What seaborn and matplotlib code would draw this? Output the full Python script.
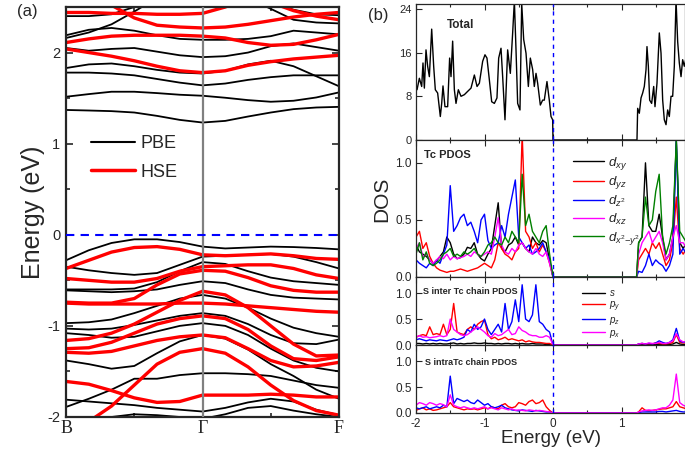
import numpy as np
import pandas as pd
import matplotlib
matplotlib.use("Agg")
import matplotlib.pyplot as plt
from matplotlib.ticker import MultipleLocator, FixedLocator
from matplotlib.lines import Line2D
import seaborn as sns

sns.set_style("ticks")
plt.rcParams['font.family'] = ['Liberation Sans', 'DejaVu Sans']
plt.rcParams['axes.unicode_minus'] = False
plt.rcParams['mathtext.fontset'] = 'custom'
plt.rcParams['mathtext.it'] = 'Liberation Sans:italic'
plt.rcParams['mathtext.rm'] = 'Liberation Sans'
plt.rcParams['xtick.direction'] = 'in'
plt.rcParams['ytick.direction'] = 'in'

# ---------------- band structure data (eV) ----------------
k_path = [0, 1/12, 2/12, 3/12, 4/12, 5/12, 6/12, 7/12, 8/12, 9/12, 10/12, 11/12, 1]
k_labels = ['B', 'Γ', 'F']
k_label_pos = [0, 0.5, 1]

pbe_conduction = [
    [1.37, 1.364, 1.357, 1.342, 1.305, 1.261, 1.232, 1.250, 1.298, 1.342, 1.379, 1.397, 1.404],
    [1.515, 1.544, 1.570, 1.570, 1.555, 1.537, 1.526, 1.504, 1.478, 1.460, 1.471, 1.507, 1.563],
    [1.78, 1.78, 1.77, 1.75, 1.71, 1.67, 1.64, 1.66, 1.70, 1.73, 1.75, 1.75, 1.75],
    [1.83, 1.87, 1.88, 1.85, 1.81, 1.78, 1.77, 1.80, 1.87, 1.91, 1.85, 1.74, 1.63],
    [2.05, 2.02, 2.04, 2.05, 2.01, 1.97, 1.95, 1.96, 2.00, 2.07, 2.10, 2.06, 2.02],
    [2.19, 2.25, 2.27, 2.24, 2.19, 2.15, 2.14, 2.14, 2.15, 2.18, 2.24, 2.22, 2.20],
    [2.16, 2.22, 2.31, 2.45, 2.60, 2.70, 2.70, 2.70, 2.60, 2.48, 2.36, 2.33, 2.32],
    [2.40, 2.40, 2.42, 2.50, 2.60, 2.65, 2.65, 2.65, 2.60, 2.55, 2.47, 2.42, 2.41],
]
pbe_valence = [
    [-0.28, -0.17, -0.09, -0.05, -0.05, -0.08, -0.13, -0.15, -0.14, -0.13, -0.135, -0.145, -0.16],
    [-0.35, -0.39, -0.42, -0.44, -0.42, -0.33, -0.24, -0.23, -0.22, -0.21, -0.24, -0.30, -0.37],
    [-0.60, -0.60, -0.60, -0.59, -0.52, -0.40, -0.30, -0.32, -0.40, -0.47, -0.51, -0.53, -0.55],
    [-0.61, -0.62, -0.63, -0.62, -0.60, -0.55, -0.51, -0.53, -0.60, -0.66, -0.69, -0.70, -0.71],
    [-0.97, -0.96, -0.93, -0.86, -0.78, -0.70, -0.66, -0.70, -0.80, -0.92, -1.02, -1.08, -1.12],
    [-1.03, -1.04, -1.03, -0.99, -0.94, -0.89, -0.86, -0.89, -0.98, -1.10, -1.19, -1.20, -1.15],
    [-1.08, -1.10, -1.13, -1.12, -1.06, -1.00, -0.97, -1.00, -1.10, -1.25, -1.38, -1.46, -1.50],
    [-1.38, -1.42, -1.47, -1.44, -1.30, -1.17, -1.10, -1.14, -1.26, -1.42, -1.55, -1.70, -1.80],
    [-1.89, -1.80, -1.70, -1.58, -1.58, -1.54, -1.52, -1.52, -1.53, -1.55, -1.60, -1.65, -1.68],
    [-1.81, -1.83, -1.85, -1.87, -1.90, -1.92, -1.94, -1.90, -1.84, -1.80, -1.83, -1.92, -1.98],
    [-2.05, -2.02, -2.00, -1.97, -1.98, -2.00, -2.02, -1.97, -1.90, -1.88, -1.93, -1.97, -2.00],
]
hse_conduction = [
    [2.04, 2.00, 1.96, 1.91, 1.85, 1.80, 1.78, 1.80, 1.86, 1.90, 1.93, 1.95, 1.97],
    [2.11, 2.15, 2.18, 2.19, 2.19, 2.19, 2.18, 2.16, 2.11, 2.08, 2.09, 2.14, 2.20],
    [2.44, 2.44, 2.43, 2.43, 2.42, 2.42, 2.43, 2.50, 2.60, 2.70, 2.70, 2.70, 2.70],
    [2.70, 2.60, 2.52, 2.38, 2.30, 2.28, 2.27, 2.28, 2.31, 2.35, 2.39, 2.42, 2.44],
    [2.80, 2.80, 2.80, 2.80, 2.80, 2.80, 2.80, 2.75, 2.65, 2.55, 2.46, 2.40, 2.36],
]
hse_valence = [
    [-0.37, -0.28, -0.19, -0.14, -0.13, -0.16, -0.22, -0.23, -0.22, -0.21, -0.23, -0.26, -0.27],
    [-0.48, -0.50, -0.52, -0.52, -0.48, -0.40, -0.35, -0.34, -0.33, -0.33, -0.37, -0.44, -0.48],
    [-0.74, -0.75, -0.75, -0.70, -0.55, -0.43, -0.39, -0.40, -0.47, -0.56, -0.61, -0.63, -0.63],
    [-1.16, -1.14, -1.08, -0.98, -0.85, -0.72, -0.62, -0.66, -0.80, -1.00, -1.20, -1.33, -1.32],
    [-0.75, -0.76, -0.76, -0.76, -0.76, -0.75, -0.75, -0.76, -0.78, -0.80, -0.82, -0.84, -0.85],
    [-1.25, -1.24, -1.18, -1.08, -0.98, -0.92, -0.89, -0.92, -1.04, -1.22, -1.36, -1.38, -1.34],
    [-1.29, -1.30, -1.28, -1.22, -1.16, -1.12, -1.10, -1.13, -1.25, -1.38, -1.45, -1.44, -1.40],
    [-2.20, -2.05, -1.88, -1.65, -1.42, -1.29, -1.25, -1.30, -1.45, -1.65, -1.82, -1.93, -1.98],
    [-1.61, -1.64, -1.71, -1.79, -1.84, -1.83, -1.76, -1.76, -1.76, -1.75, -1.76, -1.78, -1.78],
]

# ---------------- DOS data ----------------
E_total = [-1.985, -1.951, -1.917, -1.898, -1.878, -1.854, -1.830, -1.805, -1.771, -1.742,
           -1.718, -1.684, -1.645, -1.625, -1.606, -1.577, -1.538, -1.509, -1.489, -1.465,
           -1.440, -1.416, -1.382, -1.343, -1.294, -1.246, -1.197, -1.148, -1.109, -1.075,
           -1.027, -0.993, -0.964, -0.929, -0.895, -0.856, -0.818, -0.793, -0.759, -0.735,
           -0.701, -0.662, -0.623, -0.589, -0.564, -0.540, -0.516, -0.482, -0.457, -0.428,
           -0.394, -0.360, -0.331, -0.297, -0.273, -0.248, -0.224, -0.185, -0.151, -0.127,
           -0.088, -0.054, -0.029, -0.005, 0.0,
           1.226, 1.236, 1.260, 1.285, 1.309, 1.333, 1.358, 1.372, 1.392, 1.411,
           1.440, 1.470, 1.489, 1.518, 1.552, 1.577, 1.601, 1.625, 1.650, 1.674,
           1.698, 1.723, 1.747, 1.771, 1.796, 1.820, 1.844, 1.869, 1.893, 1.917, 1.942]
dos_total = [9.2, 11.3, 9.8, 14.1, 9.5, 16.5, 13.5, 11.6, 20.3, 13.5,
             9.2, 8.6, 4.3, 6.7, 9.9, 6.1, 6.1, 15.0, 11.6, 18.1,
             9.2, 6.7, 9.2, 8.0, 8.3, 8.9, 9.5, 11.9, 9.8, 10.4,
             14.4, 15.6, 15.0, 11.0, 7.0, 6.7, 7.7, 15.0, 16.8, 11.6,
             3.7, 16.5, 12.2, 19.6, 25.5, 16.5, 6.7, 5.5, 25.0, 18.4,
             15.9, 9.8, 15.0, 12.9, 9.8, 12.2, 10.4, 6.4, 7.3, 7.3,
             10.7, 7.3, 4.3, 3.7, 0.0,
             0.0, 5.8, 4.9, 7.7, 8.6, 9.8, 12.9, 17.1, 13.5, 7.3,
             6.7, 9.8, 6.1, 10.4, 19.6, 15.9, 7.3, 3.7, 2.8, 5.5,
             4.3, 8.0, 8.0, 13.5, 25.7, 18.0, 14.1, 11.6, 14.7, 13.5, 15.0]

E_val = list(np.round(np.arange(-2.0, 0.001, 0.05), 2))
E_cond = [1.22, 1.25, 1.30, 1.35, 1.40, 1.45, 1.50, 1.55, 1.60, 1.65, 1.70, 1.75, 1.80, 1.85, 1.90, 1.95]

tc_dxy = [0.28, 0.22, 0.20, 0.18, 0.15, 0.12, 0.14, 0.18, 0.22, 0.35,
          0.30, 0.20, 0.16, 0.17, 0.20, 0.26, 0.25, 0.30, 0.20, 0.16,
          0.14, 0.20, 0.25, 0.45, 0.65, 0.25, 0.22, 0.28, 0.30, 0.35,
          0.28, 0.30, 0.25, 0.22, 0.35, 0.30, 0.28, 0.32, 0.30, 0.15, 0.0]
tc_dyz = [0.35, 0.40, 0.25, 0.30, 0.18, 0.12, 0.08, 0.06, 0.05, 0.04,
          0.05, 0.05, 0.06, 0.07, 0.06, 0.05, 0.06, 0.07, 0.08, 0.10,
          0.12, 0.10, 0.08, 0.15, 0.30, 0.25, 0.20, 0.18, 0.15, 0.22,
          0.25, 1.25, 0.40, 0.35, 0.25, 0.30, 0.22, 0.28, 0.22, 0.12, 0.0]
tc_dz2 = [0.15, 0.12, 0.10, 0.08, 0.12, 0.10, 0.15, 0.12, 0.20, 0.28,
          0.80, 0.40, 0.45, 0.52, 0.55, 0.45, 0.48, 0.40, 0.30, 0.50,
          0.55, 0.32, 0.25, 0.28, 0.30, 0.45, 0.35, 0.55, 0.70, 0.85,
          0.35, 0.30, 0.25, 0.28, 0.20, 0.22, 0.25, 0.30, 0.22, 0.15, 0.0]
tc_dxz = [0.25, 0.30, 0.18, 0.20, 0.15, 0.12, 0.15, 0.18, 0.16, 0.20,
          0.15, 0.18, 0.16, 0.17, 0.18, 0.20, 0.18, 0.22, 0.20, 0.18,
          0.20, 0.22, 0.20, 0.35, 0.52, 0.28, 0.22, 0.20, 0.25, 0.22,
          0.28, 0.30, 0.25, 0.22, 0.20, 0.25, 0.20, 0.18, 0.22, 0.12, 0.0]
tc_dx2y2 = [0.20, 0.30, 0.15, 0.22, 0.12, 0.10, 0.12, 0.15, 0.20, 0.22,
            0.25, 0.18, 0.20, 0.18, 0.22, 0.20, 0.22, 0.25, 0.20, 0.18,
            0.22, 0.28, 0.30, 0.35, 0.30, 0.28, 0.35, 0.30, 0.40, 0.35,
            0.30, 0.90, 0.45, 0.55, 0.40, 0.35, 0.30, 0.40, 0.45, 0.20, 0.0]
tc_dxy_c = [0.0, 0.30, 0.35, 1.00, 0.45, 0.40, 0.40, 0.55, 0.35, 0.15, 0.20, 0.35, 1.20, 0.30, 0.25, 0.30]
tc_dyz_c = [0.0, 0.15, 0.20, 0.25, 0.20, 0.30, 0.25, 0.30, 0.20, 0.10, 0.15, 0.30, 0.70, 0.25, 0.20, 0.25]
tc_dz2_c = [0.0, 0.05, 0.04, 0.10, 0.20, 0.10, 0.15, 0.12, 0.10, 0.05, 0.10, 0.20, 1.20, 0.20, 0.25, 0.20]
tc_dxz_c = [0.0, 0.20, 0.30, 0.35, 0.40, 0.30, 0.35, 0.40, 0.30, 0.15, 0.20, 0.35, 0.45, 0.30, 0.30, 0.25]
tc_dx2y2_c = [0.0, 0.30, 0.35, 0.70, 0.45, 0.50, 0.75, 0.90, 0.35, 0.20, 0.30, 0.45, 1.20, 0.40, 0.35, 0.30]

inter_s = [0.03, 0.03, 0.02, 0.03, 0.02, 0.03, 0.02, 0.03, 0.02, 0.02,
           0.03, 0.04, 0.02, 0.03, 0.02, 0.03, 0.03, 0.04, 0.03, 0.03,
           0.04, 0.03, 0.03, 0.02, 0.03, 0.02, 0.03, 0.03, 0.02, 0.03,
           0.02, 0.03, 0.02, 0.02, 0.03, 0.02, 0.02, 0.02, 0.01, 0.01, 0.0]
inter_py = [0.15, 0.18, 0.20, 0.18, 0.35, 0.20, 0.22, 0.20, 0.40, 0.20,
            0.30, 0.80, 0.25, 0.22, 0.20, 0.30, 0.35, 0.30, 0.40, 0.45,
            0.48, 0.20, 0.12, 0.15, 0.10, 0.12, 0.15, 0.10, 0.12, 0.10,
            0.08, 0.10, 0.06, 0.08, 0.06, 0.05, 0.05, 0.04, 0.03, 0.03, 0.0]
inter_pz = [0.10, 0.12, 0.10, 0.08, 0.10, 0.09, 0.08, 0.10, 0.09, 0.08,
            0.10, 0.12, 0.10, 0.12, 0.15, 0.30, 0.25, 0.40, 0.30, 0.35,
            0.50, 0.30, 0.20, 0.30, 0.40, 0.25, 0.80, 0.30, 0.45, 0.87,
            0.45, 1.16, 0.50, 0.45, 0.58, 1.16, 0.45, 0.40, 0.30, 0.25, 0.0]
inter_px = [0.15, 0.18, 0.15, 0.16, 0.14, 0.15, 0.16, 0.18, 0.16, 0.18,
            0.50, 0.30, 0.25, 0.20, 0.18, 0.20, 0.25, 0.30, 0.35, 0.30,
            0.25, 0.18, 0.15, 0.22, 0.18, 0.20, 0.25, 0.30, 0.20, 0.22,
            0.35, 0.28, 0.25, 0.20, 0.18, 0.18, 0.15, 0.15, 0.18, 0.15, 0.0]
inter_s_c = [0, 0.01, 0.01, 0.01, 0.01, 0.01, 0.01, 0.01, 0.01, 0.01, 0.01, 0.02, 0.05, 0.02, 0.01, 0.01]
inter_py_c = [0, 0.02, 0.03, 0.02, 0.02, 0.02, 0.04, 0.03, 0.02, 0.02, 0.03, 0.05, 0.20, 0.05, 0.04, 0.04]
inter_pz_c = [0, 0.02, 0.03, 0.02, 0.03, 0.02, 0.04, 0.08, 0.05, 0.03, 0.05, 0.10, 0.32, 0.08, 0.05, 0.06]
inter_px_c = [0, 0.02, 0.03, 0.02, 0.04, 0.03, 0.03, 0.05, 0.03, 0.03, 0.05, 0.08, 0.22, 0.10, 0.06, 0.06]

intra_pz = [0.10, 0.08, 0.10, 0.12, 0.08, 0.10, 0.12, 0.10, 0.15, 0.12,
            0.71, 0.18, 0.28, 0.25, 0.22, 0.25, 0.20, 0.18, 0.25, 0.20,
            0.15, 0.18, 0.12, 0.10, 0.12, 0.15, 0.10, 0.08, 0.06, 0.05,
            0.04, 0.06, 0.05, 0.04, 0.03, 0.05, 0.04, 0.03, 0.02, 0.02, 0.0]
intra_py = [0.05, 0.08, 0.10, 0.06, 0.08, 0.05, 0.06, 0.08, 0.10, 0.12,
            0.20, 0.12, 0.10, 0.08, 0.06, 0.08, 0.07, 0.08, 0.06, 0.08,
            0.10, 0.08, 0.12, 0.10, 0.08, 0.15, 0.18, 0.12, 0.10, 0.12,
            0.20, 0.18, 0.15, 0.22, 0.25, 0.18, 0.20, 0.25, 0.12, 0.05, 0.0]
intra_px = [0.15, 0.20, 0.18, 0.15, 0.20, 0.18, 0.15, 0.18, 0.16, 0.12,
            0.35, 0.15, 0.12, 0.10, 0.12, 0.10, 0.08, 0.10, 0.08, 0.10,
            0.12, 0.08, 0.10, 0.08, 0.06, 0.10, 0.08, 0.06, 0.08, 0.05,
            0.06, 0.05, 0.04, 0.06, 0.05, 0.04, 0.05, 0.04, 0.03, 0.02, 0.0]
intra_py_c = [0, 0.02, 0.10, 0.05, 0.04, 0.05, 0.06, 0.07, 0.08, 0.08, 0.10, 0.12, 0.22, 0.12, 0.10, 0.08]
intra_pz_c = [0, 0.01, 0.02, 0.02, 0.02, 0.02, 0.02, 0.03, 0.03, 0.02, 0.03, 0.04, 0.05, 0.03, 0.02, 0.02]
intra_px_c = [0, 0.02, 0.04, 0.05, 0.06, 0.05, 0.06, 0.08, 0.10, 0.10, 0.15, 0.25, 0.75, 0.20, 0.15, 0.12]

tc_labels = [r'$d_{xy}$', r'$d_{yz}$', r'$d_{z^2}$', r'$d_{xz}$', r'$d_{x^2\mathrm{-}y^2}$']
s_labels = [r'$s$', r'$p_y$', r'$p_z$', r'$p_x$']

C_BLK, C_RED, C_BLU, C_MAG, C_GRN = '#000000', '#ff0000', '#0000ff', '#ff00ff', '#008000'

# ---------------- figure ----------------
fig = plt.figure(figsize=(6.85, 4.49), dpi=100)


def draw_bands(ax, bands, color, lw):
    rows = []
    for b, band in enumerate(bands):
        for k, e in zip(k_path, band):
            rows.append((b, k, e))
    df = pd.DataFrame(rows, columns=['band', 'k', 'E'])
    sns.lineplot(data=df, x='k', y='E', units='band', estimator=None, sort=False,
                 color=color, lw=lw, ax=ax, legend=False)


axb = fig.add_axes([0.0964, 0.0713, 0.3985, 0.9131])
draw_bands(axb, pbe_conduction + pbe_valence, C_BLK, 1.3)
draw_bands(axb, hse_conduction + hse_valence, C_RED, 2.4)
axb.axvline(0.5, color='#808080', lw=1.6, zorder=5)
axb.axhline(0.0, color='#0000ff', lw=1.5, ls=(0, (4, 3)), zorder=5)
axb.set_xlim(0, 1)
axb.set_ylim(-2, 2.5)
axb.set_xlabel('')
axb.set_ylabel('Energy (eV)', fontsize=18, labelpad=2)
axb.set_xticks(k_label_pos)
axb.set_xticklabels(k_labels, fontsize=13, family=['Liberation Serif', 'DejaVu Serif'])
axb.xaxis.set_minor_locator(FixedLocator([0.25, 0.75]))
axb.yaxis.set_major_locator(MultipleLocator(1))
axb.yaxis.set_minor_locator(MultipleLocator(0.5))
axb.tick_params(axis='both', which='both', direction='in', top=True, right=True, width=1.2)
axb.tick_params(axis='both', which='major', length=5)
axb.tick_params(axis='both', which='minor', length=3)
axb.tick_params(axis='y', labelsize=10.5, pad=4)
axb.tick_params(axis='x', pad=2)
for s in axb.spines.values():
    s.set_linewidth(1.6)
handles = [Line2D([], [], color=C_BLK, lw=1.5), Line2D([], [], color=C_RED, lw=2.5)]
axb.legend(handles, ['PBE', 'HSE'], loc='upper left', bbox_to_anchor=(0.06, 0.71),
           frameon=False, fontsize=13, handlelength=2.4, handletextpad=0.3,
           labelspacing=0.65, borderpad=0)
fig.text(0.025, 0.965, '(a)', fontsize=12)
fig.text(0.537, 0.955, '(b)', fontsize=12)

# DOS panels
left, width = 0.6073, 0.3927
ax1 = fig.add_axes([left, 0.6882, width, 0.3029])
ax2 = fig.add_axes([left, 0.3831, width, 0.3051])
ax3 = fig.add_axes([left, 0.2316, width, 0.1515])
ax4 = fig.add_axes([left, 0.0802, width, 0.1514])

sns.lineplot(x=E_total, y=dos_total, color=C_BLK, lw=1.0, ax=ax1, estimator=None, sort=False)

E_all = E_val + E_cond
for vals, valsc, col, lab in zip([tc_dxy, tc_dyz, tc_dz2, tc_dxz, tc_dx2y2],
                                 [tc_dxy_c, tc_dyz_c, tc_dz2_c, tc_dxz_c, tc_dx2y2_c],
                                 [C_BLK, C_RED, C_BLU, C_MAG, C_GRN], tc_labels):
    sns.lineplot(x=E_all, y=vals + valsc, color=col, lw=1.0, ax=ax2, estimator=None,
                 sort=False, label=lab)
for vals, valsc, col, lab in zip([inter_s, inter_py, inter_pz, inter_px],
                                 [inter_s_c, inter_py_c, inter_pz_c, inter_px_c],
                                 [C_BLK, C_RED, C_BLU, C_MAG], s_labels):
    sns.lineplot(x=E_all, y=vals + valsc, color=col, lw=1.0, ax=ax3, estimator=None,
                 sort=False, label=lab)
for vals, valsc, col in zip([intra_py, intra_pz, intra_px],
                            [intra_py_c, intra_pz_c, intra_px_c],
                            [C_RED, C_BLU, C_MAG]):
    sns.lineplot(x=E_all, y=vals + valsc, color=col, lw=1.0, ax=ax4, estimator=None,
                 sort=False)

ax1.set_ylim(0, 24.9)
ax1.yaxis.set_major_locator(FixedLocator([0, 8, 16, 24]))
ax2.set_ylim(0, 1.2)
for ax in (ax3, ax4):
    ax.set_ylim(0, 1.31)
for ax in (ax2, ax3, ax4):
    ax.yaxis.set_major_locator(FixedLocator([0.0, 0.5, 1.0]))
    ax.set_yticklabels(['0.0', '0.5', '1.0'])

for ax in (ax1, ax2, ax3, ax4):
    ax.set_xlim(-2, 1.927)
    ax.axvline(0, color='#0000ff', lw=1.0, ls=(0, (3, 3)), zorder=5)
    ax.xaxis.set_major_locator(MultipleLocator(1))
    ax.xaxis.set_minor_locator(MultipleLocator(0.5))
    ax.tick_params(axis='both', which='both', direction='in', top=True, right=False,
                   labelsize=8.5, width=0.8)
    ax.tick_params(axis='both', which='major', length=4)
    ax.tick_params(axis='both', which='minor', length=2)
    ax.tick_params(axis='y', pad=3)
    ax.set_xlabel('')
    ax.set_ylabel('')
    for s in ax.spines.values():
        s.set_linewidth(0.9)
    if ax is not ax4:
        ax.tick_params(axis='x', labelbottom=False)
ax1.tick_params(axis='y', labelsize=8)

ax1.text(0.115, 0.845, 'Total', transform=ax1.transAxes, fontsize=8.5, fontweight='bold',
         va='center')
ax2.text(0.03, 0.89, 'Tc PDOS', transform=ax2.transAxes, fontsize=8, fontweight='bold',
         va='center')
ax3.text(0.027, 0.78, 'S inter Tc chain PDOS', transform=ax3.transAxes, fontsize=6.5,
         fontweight='bold', va='center')
ax4.text(0.035, 0.75, 'S intraTc chain PDOS', transform=ax4.transAxes, fontsize=6.5,
         fontweight='bold', va='center')

ax2.legend(loc='upper left', bbox_to_anchor=(0.56, 0.94), frameon=False, fontsize=9.5,
           handlelength=2.3, handletextpad=0.3, labelspacing=0.2, borderpad=0)
ax3.legend(loc='upper left', bbox_to_anchor=(0.60, 0.91), frameon=False, fontsize=7,
           handlelength=2.3, handletextpad=0.4, labelspacing=0.12, borderpad=0)

ax4.set_xlabel('Energy (eV)', fontsize=13.5, labelpad=0)
fig.text(0.558, 0.555, 'DOS', fontsize=15, rotation=90, va='center', ha='center')

fig.savefig('out.png', dpi=100)
